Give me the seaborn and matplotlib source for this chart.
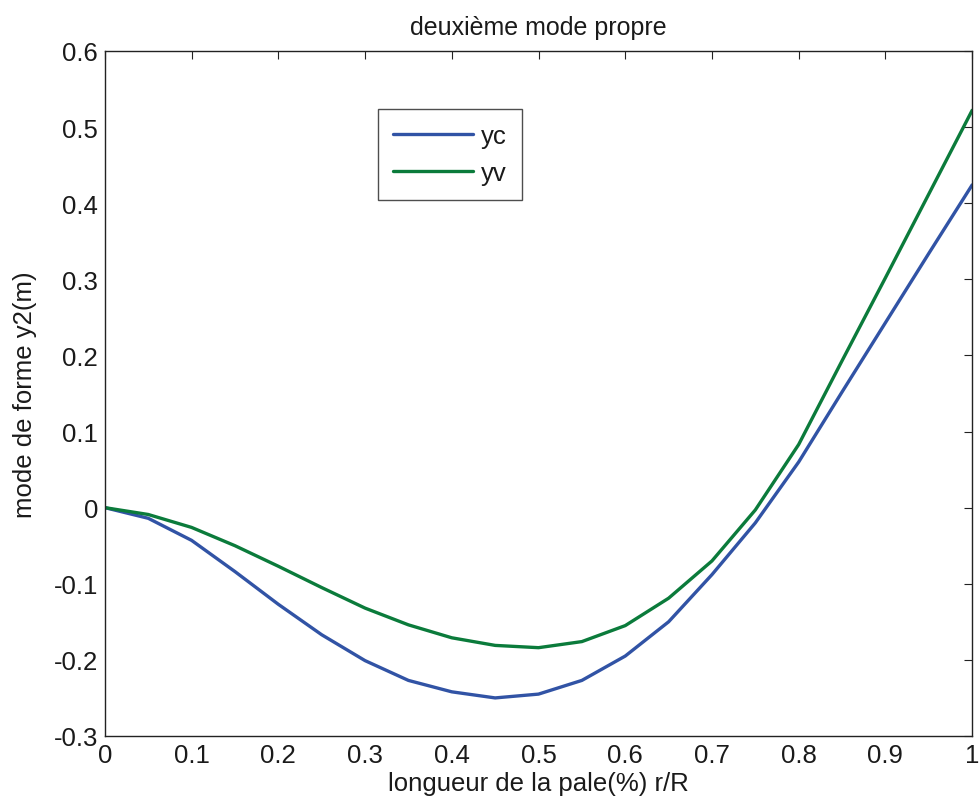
import matplotlib
matplotlib.use("Agg")
import matplotlib.pyplot as plt
import seaborn as sns
import pandas as pd

r = [0, 0.05, 0.1, 0.15, 0.2, 0.25, 0.3, 0.35, 0.4, 0.45, 0.5,
     0.55, 0.6, 0.65, 0.7, 0.75, 0.8, 0.85, 0.9, 0.95, 1.0]
yc = [0, -0.014, -0.043, -0.084, -0.127, -0.167, -0.201, -0.227, -0.242, -0.250, -0.245,
      -0.227, -0.195, -0.150, -0.088, -0.020, 0.060, 0.152, 0.243, 0.334, 0.424]
yv = [0, -0.009, -0.026, -0.050, -0.077, -0.105, -0.132, -0.154, -0.171, -0.181, -0.184,
      -0.176, -0.155, -0.119, -0.070, -0.003, 0.083, 0.193, 0.302, 0.412, 0.522]
series_names = ["yc", "yv"]
colors = ["#3153A5", "#0B7B3B"]

xticks = [0, 0.1, 0.2, 0.3, 0.4, 0.5, 0.6, 0.7, 0.8, 0.9, 1]
xticklabels = ["0", "0.1", "0.2", "0.3", "0.4", "0.5", "0.6", "0.7", "0.8", "0.9", "1"]
yticks = [-0.3, -0.2, -0.1, 0, 0.1, 0.2, 0.3, 0.4, 0.5, 0.6]
yticklabels = ["-0.3", "-0.2", "-0.1", "0", "0.1", "0.2", "0.3", "0.4", "0.5", "0.6"]

df = pd.concat([
    pd.DataFrame({"r": r, "y": yc, "serie": series_names[0]}),
    pd.DataFrame({"r": r, "y": yv, "serie": series_names[1]}),
])

sns.set_style("white")
plt.rcParams["font.family"] = ["Liberation Sans", "DejaVu Sans"]

fs = 18.5
fig = plt.figure(figsize=(9.8, 8.12), dpi=100)
ax = fig.add_axes([0.107, 0.0924, 0.885, 0.8436])

sns.lineplot(data=df, x="r", y="y", hue="serie", palette=colors, linewidth=2.4,
             ax=ax, legend=True)

ax.set_xlim(0, 1)
ax.set_ylim(-0.3, 0.6)
ax.set_xticks(xticks)
ax.set_xticklabels(xticklabels)
ax.set_yticks(yticks)
ax.set_yticklabels(yticklabels)
ax.tick_params(direction="in", length=6, width=0.8, top=True, right=True,
               labelsize=fs, colors="#222222", labelcolor="#1a1a1a", pad=5)
for s in ax.spines.values():
    s.set_color("#222222")
    s.set_linewidth(1.0)

ax.set_xlabel("longueur de la pale(%) r/R", fontsize=fs, labelpad=3, color="#1a1a1a")
ax.set_ylabel("mode de forme y2(m)", fontsize=fs, labelpad=12, color="#1a1a1a")
ax.set_title("deuxième mode propre", fontsize=18, pad=12, color="#1a1a1a")

leg = ax.legend(loc="upper left", bbox_to_anchor=(0.315, 0.916), fontsize=fs,
                frameon=True, fancybox=False, edgecolor="#222222",
                handlelength=3.1, handletextpad=0.3, borderpad=0.6,
                labelspacing=0.5, borderaxespad=0)
leg.get_frame().set_linewidth(1.0)
for t in leg.get_texts():
    t.set_color("#1a1a1a")

fig.savefig("out.png", dpi=100)
